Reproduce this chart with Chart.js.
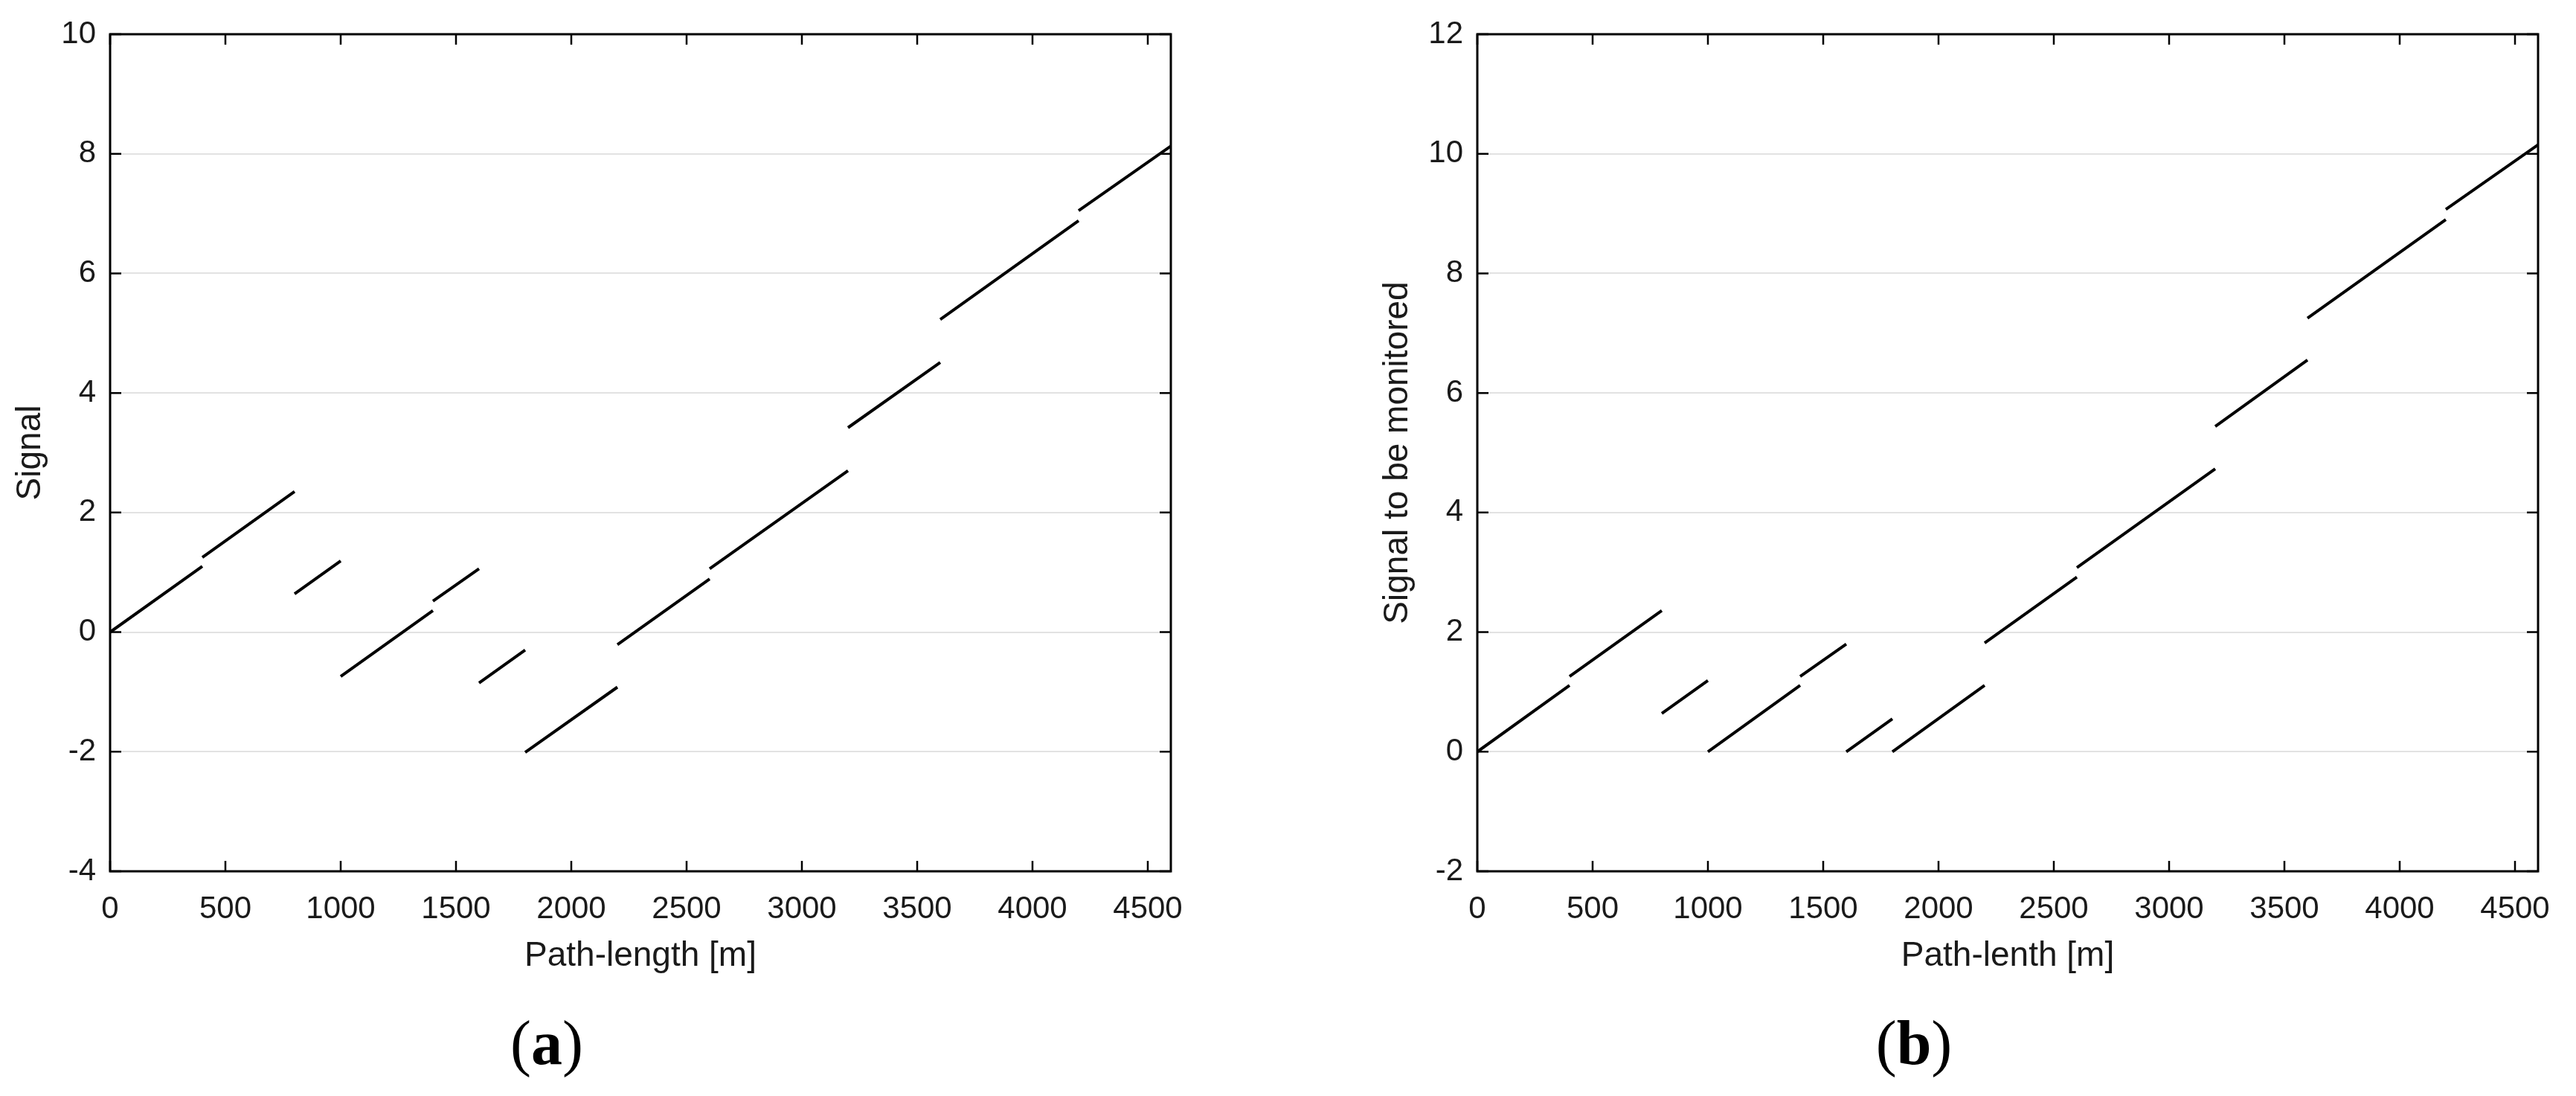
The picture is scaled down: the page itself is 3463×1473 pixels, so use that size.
<!DOCTYPE html>
<html lang="en">
<head>
<meta charset="UTF-8">
<title>Signal vs path-length</title>
<style>
  body { margin: 0; background: #fff; width: 3463px; height: 1473px; position: relative; overflow: hidden; }
  canvas { position: absolute; top: 0; }
  #chartA { left: 0; }
  #chartB { left: 1838px; }
  .caption { position: absolute; top: 1360px; width: 200px; text-align: center;
             font-family: 'Liberation Serif', 'Times New Roman', serif; font-size: 84px; line-height: 84px; color: #000; }
</style>
</head>
<body>
<canvas id="chartA" width="1620" height="1320"></canvas>
<canvas id="chartB" width="1620" height="1320"></canvas>
<div class="caption" style="left:635px">(<b>a</b>)</div>
<div class="caption" style="left:2473px">(<b>b</b>)</div>

<script src="https://cdn.jsdelivr.net/npm/chart.js"></script>
<script>
    // each piece of the signal runs from segStart to segEnd [m]
    const segStart = [0, 400, 800, 1000, 1400, 1600, 1800, 2200, 2600, 3200, 3600, 4200];
    const segEnd   = [400, 800, 1000, 1400, 1600, 1800, 2200, 2600, 3200, 3600, 4200, 4600];

    // (a) Signal, value at the start and at the end of each piece
    const signalStart = [0, 1.25, 0.64, -0.74, 0.52, -0.85, -2.01, -0.21, 1.06, 3.42, 5.23, 7.05];
    const signalEnd   = [1.1, 2.35, 1.19, 0.36, 1.06, -0.3, -0.92, 0.89, 2.7, 4.51, 6.88, 8.13];

    // (b) Signal to be monitored
    const monitoredStart = [0, 1.26, 0.64, 0, 1.26, 0, 0, 1.82, 3.08, 5.44, 7.25, 9.07];
    const monitoredEnd   = [1.11, 2.36, 1.19, 1.11, 1.8, 0.55, 1.11, 2.92, 4.73, 6.55, 8.9, 10.15];

    // axis ranges and tick marks
    const xRange = [0, 4600];
    const xTicks = [0, 500, 1000, 1500, 2000, 2500, 3000, 3500, 4000, 4500];
    const yRangeA = [-4, 10];
    const yTicksA = [-4, -2, 0, 2, 4, 6, 8, 10];
    const yRangeB = [-2, 12];
    const yTicksB = [-2, 0, 2, 4, 6, 8, 10, 12];

    const FONT = "'Liberation Sans', Arial, Helvetica, sans-serif";
    Chart.defaults.font.family = FONT;
    Chart.defaults.color = '#1a1a1a';

    // pieces are separated by a null point so the line breaks between them
    function buildPoints(starts, ends) {
        let pts = [];
        for (let i = 0; i < segStart.length; i++) {
            pts.push({x: segStart[i], y: starts[i]});
            pts.push({x: segEnd[i], y: ends[i]});
            pts.push({x: segEnd[i], y: null});
        }
        return pts;
    }

    // matlab style box with inward ticks on all four sides
    const boxTicks = {
        id: 'boxTicks',
        afterDatasetsDraw(chart) {
            const {ctx, chartArea: a, scales} = chart;
            ctx.save();
            ctx.strokeStyle = '#000';
            ctx.lineWidth = 2.5;
            ctx.beginPath();
            scales.x.ticks.forEach(t => {
                const px = scales.x.getPixelForValue(t.value);
                ctx.moveTo(px, a.bottom); ctx.lineTo(px, a.bottom - 14);
                ctx.moveTo(px, a.top); ctx.lineTo(px, a.top + 14);
            });
            scales.y.ticks.forEach(t => {
                const py = scales.y.getPixelForValue(t.value);
                ctx.moveTo(a.left, py); ctx.lineTo(a.left + 15, py);
                ctx.moveTo(a.right, py); ctx.lineTo(a.right - 15, py);
            });
            ctx.stroke();
            ctx.lineWidth = 3;
            ctx.strokeRect(a.left, a.top, a.right - a.left, a.bottom - a.top);
            ctx.restore();
        }
    };

    function makeChart(id, points, yRange, yTicks, yTitle, xTitle) {
        const ctx = document.getElementById(id);
        return new Chart(ctx, {
            type: 'scatter',
            data: {
                datasets: [{
                    data: points,
                    showLine: true,
                    spanGaps: false,
                    borderColor: '#000',
                    borderWidth: 4,
                    borderCapStyle: 'butt',
                    pointRadius: 0,
                    pointHoverRadius: 0
                }]
            },
            options: {
                responsive: false,
                animation: false,
                devicePixelRatio: 1,
                layout: { padding: { top: 46, right: 46, left: 0, bottom: 0 } },
                plugins: { legend: { display: false }, tooltip: { enabled: false } },
                scales: {
                    x: {
                        type: 'linear',
                        min: xRange[0],
                        max: xRange[1],
                        afterBuildTicks: (scale) => { scale.ticks = xTicks.map(v => ({value: v})); },
                        afterFit: (scale) => { scale.height = 149; },
                        grid: { display: false, drawTicks: false },
                        border: { display: false },
                        ticks: { padding: 26, maxRotation: 0, autoSkip: false,
                                 callback: (v) => String(v),
                                 font: { size: 42 }, color: '#1a1a1a' },
                        title: { display: true, text: xTitle, font: { size: 46 }, color: '#1a1a1a',
                                 padding: { top: 0, bottom: 7 } }
                    },
                    y: {
                        type: 'linear',
                        min: yRange[0],
                        max: yRange[1],
                        afterBuildTicks: (scale) => { scale.ticks = yTicks.map(v => ({value: v})); },
                        afterFit: (scale) => { scale.width = 148; },
                        grid: { color: '#e2e2e2', lineWidth: 2, drawTicks: false },
                        border: { display: false },
                        ticks: { padding: 19, autoSkip: false, callback: (v) => String(v),
                                 font: { size: 42 }, color: '#1a1a1a' },
                        title: { display: true, text: yTitle, font: { size: 46 }, color: '#1a1a1a',
                                 padding: { top: 14, bottom: 0 } }
                    }
                }
            },
            plugins: [boxTicks]
        });
    }

    makeChart('chartA', buildPoints(signalStart, signalEnd), yRangeA, yTicksA, 'Signal', 'Path-length [m]');
    makeChart('chartB', buildPoints(monitoredStart, monitoredEnd), yRangeB, yTicksB, 'Signal to be monitored', 'Path-lenth [m]');
</script>
</body>
</html>
